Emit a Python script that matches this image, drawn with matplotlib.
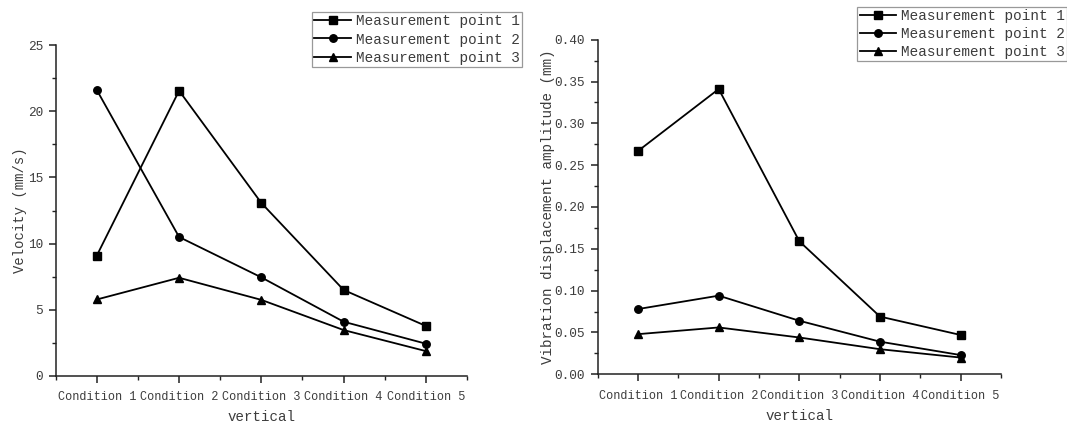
import matplotlib

matplotlib.use("Agg")
import matplotlib.pyplot as plt
from matplotlib.ticker import FixedLocator, MultipleLocator

OUT = "out.png"

CONDITIONS = ["Condition 1", "Condition 2", "Condition 3", "Condition 4", "Condition 5"]
SERIES = ["Measurement point 1", "Measurement point 2", "Measurement point 3"]

# left panel: vibration velocity (mm/s)
VEL_P1 = [9.1, 21.55, 13.07, 6.5, 3.78]
VEL_P2 = [21.6, 10.5, 7.45, 4.1, 2.44]
VEL_P3 = [5.78, 7.42, 5.75, 3.47, 1.88]

# right panel: vibration displacement amplitude (mm)
DISP_P1 = [0.267, 0.341, 0.159, 0.069, 0.047]
DISP_P2 = [0.078, 0.094, 0.064, 0.039, 0.023]
DISP_P3 = [0.048, 0.056, 0.044, 0.030, 0.020]

MARKERS = ["s", "o", "^"]
TEXT_C = "#3c3c3c"
FONT = ["Liberation Mono", "DejaVu Sans Mono"]


def style_axis(ax, ymax, ymajor):
    x = range(len(CONDITIONS))
    ax.set_xlim(-0.5, len(CONDITIONS) - 0.5)
    ax.set_ylim(0, ymax)
    ax.set_xticks(list(x))
    ax.set_xticklabels(CONDITIONS)
    ax.xaxis.set_minor_locator(FixedLocator([i - 0.5 for i in range(len(CONDITIONS) + 1)]))
    ax.yaxis.set_major_locator(MultipleLocator(ymajor))
    ax.yaxis.set_minor_locator(MultipleLocator(ymajor / 2))
    for s in ("top", "right"):
        ax.spines[s].set_visible(False)
    for s in ("left", "bottom"):
        ax.spines[s].set_color("#222222")
        ax.spines[s].set_linewidth(1.1)
    ax.tick_params(which="major", direction="out", length=5, width=1.1,
                   color="#222222", labelcolor=TEXT_C, pad=4)
    ax.tick_params(which="minor", direction="out", length=3, width=1.0, color="#222222")
    ax.tick_params(axis="x", labelsize=8.6, pad=6)
    ax.tick_params(axis="y", labelsize=9.2)
    for lab in ax.get_xticklabels() + ax.get_yticklabels():
        lab.set_family(FONT)
    ax.set_xlabel("vertical", fontsize=10.2, color=TEXT_C, family=FONT, labelpad=5)


def draw(ax, series):
    x = range(len(CONDITIONS))
    for vals, m, name in zip(series, MARKERS, SERIES):
        ax.plot(x, vals, color="black", lw=1.3, marker=m, markersize=5.4,
                markerfacecolor="black", markeredgecolor="black", label=name)


def add_legend(fig, ax, anchor):
    leg = fig.legend(*ax.get_legend_handles_labels(), loc="upper left",
                     bbox_to_anchor=anchor, bbox_transform=fig.transFigure,
                     fancybox=False, framealpha=1, edgecolor="#999999",
                     borderpad=0.15, borderaxespad=0, handlelength=2.5,
                     handletextpad=0.4, labelspacing=0.28,
                     prop={"family": FONT, "size": 10.4})
    leg.get_frame().set_linewidth(0.9)
    for t in leg.get_texts():
        t.set_color(TEXT_C)


def main():
    fig = plt.figure(figsize=(10.67, 4.25), dpi=100)

    ax1 = fig.add_axes([0.0522, 0.1153, 0.3855, 0.7787])
    draw(ax1, [VEL_P1, VEL_P2, VEL_P3])
    style_axis(ax1, 25, 5)
    ax1.set_yticklabels([f"{v:g}" for v in ax1.get_yticks()])
    ax1.set_ylabel("Velocity (mm/s)", fontsize=10.0, color=TEXT_C, family=FONT, labelpad=1)
    add_legend(fig, ax1, (0.2927, 0.971))

    ax2 = fig.add_axes([0.5602, 0.1193, 0.3779, 0.7873])
    draw(ax2, [DISP_P1, DISP_P2, DISP_P3])
    style_axis(ax2, 0.40, 0.05)
    ax2.set_yticklabels([f"{v:.2f}" for v in ax2.get_yticks()])
    ax2.set_ylabel("Vibration displacement amplitude (mm)", fontsize=10.3,
                   color=TEXT_C, family=FONT, labelpad=-0.5)
    add_legend(fig, ax2, (0.8035, 0.984))

    for ax in (ax1, ax2):
        for lab in ax.get_yticklabels():
            lab.set_family(FONT)

    fig.savefig(OUT, dpi=100)


if __name__ == "__main__":
    main()
